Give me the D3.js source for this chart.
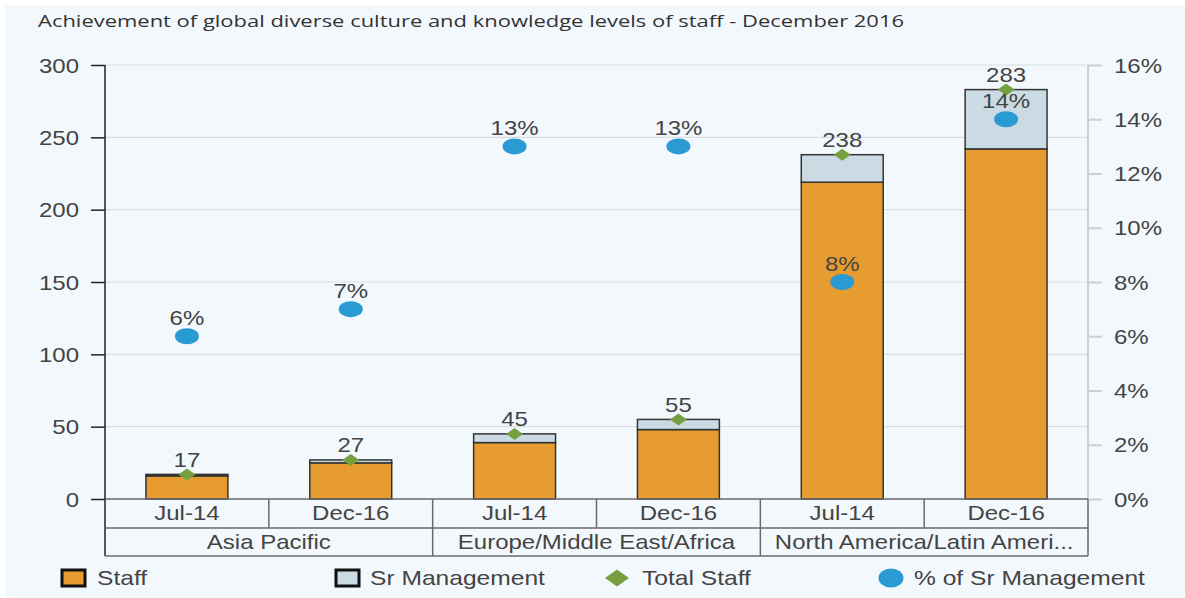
<!DOCTYPE html>
<html>
<head>
<meta charset="utf-8">
<script src="https://cdn.jsdelivr.net/npm/d3@7"></script>
<style>
body { margin: 0; background: #fff; }
text { font-family: "Liberation Sans", Arial, sans-serif; fill: #444; }
.title { font-family: "Open Sans", sans-serif; fill: #333; }
</style>
</head>
<body>
<div id="chart"></div>
<script>
// data
var regions = ["Asia Pacific", "Europe/Middle East/Africa", "North America/Latin Ameri..."];
var periods = ["Jul-14", "Dec-16"];
var staff = [16, 25, 39, 48, 219, 242];
var srMgmt = [1, 2, 6, 7, 19, 41];
var totalStaff = [17, 27, 45, 55, 238, 283];
var pctSr = [6, 7, 13, 13, 8, 14];
var leftTicks = [0, 50, 100, 150, 200, 250, 300];
var rightTicks = [0, 2, 4, 6, 8, 10, 12, 14, 16];

var width = 1185, height = 598;
var plotL = 105, plotR = 1088, plotT = 65, plotB = 499;
var row1 = 528, row2 = 556;
var fs = 20, sx = 1.2;   // the source text looks wide, so stretch it a bit

var keys = [];
regions.forEach(function(r, i) {
  periods.forEach(function(p, j) { keys.push(i * 2 + j); });
});

var svg = d3.select("#chart").append("svg")
  .attr("width", width).attr("height", height);

svg.append("rect").attr("x", 5).attr("y", 5)
  .attr("width", width - 5).attr("height", height - 5)
  .attr("fill", "#f3f8fc");

svg.append("text").attr("class", "title")
  .attr("x", 38).attr("y", 27)
  .attr("font-size", 17)
  .attr("textLength", 866).attr("lengthAdjust", "spacingAndGlyphs")
  .text("Achievement of global diverse culture and knowledge levels of staff - December 2016");

// put a stretched text at (x, y)
function place(sel, fx, fy) {
  sel.attr("x", 0).attr("y", 0)
    .attr("font-size", fs)
    .attr("transform", function(d, i) {
      return "translate(" + fx(d, i) + "," + fy(d, i) + ") scale(" + sx + ",1)";
    });
}

var x = d3.scaleBand().domain(keys).range([plotL, plotR])
  .paddingInner(0.5).paddingOuter(0.25);
var step = x.step();
var y = d3.scaleLinear().domain([0, 300]).range([plotB, plotT]);
var yR = d3.scaleLinear().domain([0, 16]).range([plotB, plotT]);

// grid
svg.append("g").selectAll("line").data(leftTicks.slice(1)).enter()
  .append("line")
  .attr("x1", plotL).attr("x2", plotR)
  .attr("y1", function(d) { return y(d); })
  .attr("y2", function(d) { return y(d); })
  .attr("stroke", "#d9dde0").attr("stroke-width", 1.2);

// left axis
var yAxis = d3.axisLeft(y).tickValues(leftTicks).tickSize(14);
var gL = svg.append("g").attr("transform", "translate(" + plotL + ",0)").call(yAxis);
gL.select(".domain").remove();
gL.selectAll(".tick line").attr("stroke", "#222").attr("stroke-width", 1.5);
gL.selectAll(".tick text").attr("fill", "#444").attr("dy", null)
  .attr("font-family", "Liberation Sans, Arial, sans-serif")
  .call(place, function() { return -26; }, function() { return 7; });
svg.append("line").attr("x1", plotL).attr("x2", plotL)
  .attr("y1", plotT).attr("y2", row2)
  .attr("stroke", "#222").attr("stroke-width", 1.5);

// right axis
var yAxisR = d3.axisRight(yR).tickValues(rightTicks).tickSize(14)
  .tickFormat(function(d) { return d + "%"; });
var gR = svg.append("g").attr("transform", "translate(" + plotR + ",0)").call(yAxisR);
gR.select(".domain").attr("stroke", "#cfcfcf").attr("stroke-width", 2)
  .attr("d", "M0," + plotT + "V" + plotB);
gR.selectAll(".tick line").attr("stroke", "#cfcfcf").attr("stroke-width", 2);
gR.selectAll(".tick text").attr("fill", "#444").attr("dy", null)
  .attr("font-family", "Liberation Sans, Arial, sans-serif")
  .call(place, function() { return 26; }, function() { return 7; });

// bars
var bars = svg.append("g");
bars.selectAll("rect.staff").data(keys).enter().append("rect")
  .attr("class", "staff")
  .attr("x", function(d) { return x(d); })
  .attr("width", x.bandwidth())
  .attr("y", function(d) { return y(staff[d]); })
  .attr("height", function(d) { return y(0) - y(staff[d]); })
  .attr("fill", "#e79c31").attr("stroke", "#333").attr("stroke-width", 1.5);
bars.selectAll("rect.sr").data(keys).enter().append("rect")
  .attr("class", "sr")
  .attr("x", function(d) { return x(d); })
  .attr("width", x.bandwidth())
  .attr("y", function(d) { return y(staff[d] + srMgmt[d]); })
  .attr("height", function(d) { return y(staff[d]) - y(staff[d] + srMgmt[d]); })
  .attr("fill", "#cbdbe3").attr("stroke", "#333").attr("stroke-width", 1.5);

function cx(d) { return x(d) + x.bandwidth() / 2; }

function diamond(w, h) {
  return "M0," + (-h / 2) + "L" + (w / 2) + ",0L0," + (h / 2) + "L" + (-w / 2) + ",0Z";
}

// total staff diamonds + labels
svg.append("g").selectAll("path").data(keys).enter().append("path")
  .attr("d", diamond(17, 12))
  .attr("transform", function(d) { return "translate(" + cx(d) + "," + y(totalStaff[d]) + ")"; })
  .attr("fill", "#76a040");
svg.append("g").selectAll("text").data(keys).enter().append("text")
  .attr("text-anchor", "middle")
  .text(function(d) { return totalStaff[d]; })
  .call(place, cx, function(d) { return y(totalStaff[d]) - 7.5; });

// % of Sr management dots + labels
svg.append("g").selectAll("ellipse").data(keys).enter().append("ellipse")
  .attr("cx", cx)
  .attr("cy", function(d) { return yR(pctSr[d]); })
  .attr("rx", 12).attr("ry", 8)
  .attr("fill", "#2a9ad3");
svg.append("g").selectAll("text").data(keys).enter().append("text")
  .attr("text-anchor", "middle")
  .text(function(d) { return pctSr[d] + "%"; })
  .call(place, cx, function(d) { return yR(pctSr[d]) - 11; });

// category table
var tbl = svg.append("g").attr("stroke", "#6a6a6a").attr("stroke-width", 1.5);
tbl.append("line").attr("x1", plotL).attr("x2", plotR).attr("y1", plotB).attr("y2", plotB);
tbl.append("line").attr("x1", plotL).attr("x2", plotR).attr("y1", row1).attr("y2", row1);
tbl.append("line").attr("x1", plotL).attr("x2", plotR).attr("y1", row2).attr("y2", row2);
tbl.append("line").attr("x1", plotR).attr("x2", plotR).attr("y1", plotB).attr("y2", row2);
tbl.selectAll("line.p").data(keys.slice(1)).enter().append("line")
  .attr("class", "p")
  .attr("x1", function(d) { return x(d) - step * 0.25; })
  .attr("x2", function(d) { return x(d) - step * 0.25; })
  .attr("y1", plotB)
  .attr("y2", function(d) { return d % 2 === 0 ? row2 : row1; });

svg.append("g").selectAll("text").data(keys).enter().append("text")
  .attr("text-anchor", "middle")
  .text(function(d) { return periods[d % 2]; })
  .call(place, cx, function() { return 520; });
svg.append("g").selectAll("text").data(regions).enter().append("text")
  .attr("text-anchor", "middle")
  .text(function(d) { return d; })
  .call(place, function(d, i) { return x(i * 2) - step * 0.25 + step; }, function() { return 549; });

// legend
var lg = svg.append("g");
lg.append("rect").attr("x", 62).attr("y", 570).attr("width", 23).attr("height", 16)
  .attr("fill", "#e79c31").attr("stroke", "#111").attr("stroke-width", 3);
lg.append("rect").attr("x", 336).attr("y", 570).attr("width", 23).attr("height", 16)
  .attr("fill", "#cbdbe3").attr("stroke", "#111").attr("stroke-width", 3);
lg.append("path").attr("d", diamond(24, 17)).attr("transform", "translate(617,578)")
  .attr("fill", "#76a040");
lg.append("ellipse").attr("cx", 891).attr("cy", 578).attr("rx", 12.5).attr("ry", 9.5)
  .attr("fill", "#2a9ad3");
var legendNames = ["Staff", "Sr Management", "Total Staff", "% of Sr Management"];
var legendX = [97, 370, 642, 914];
lg.selectAll("text").data(legendNames).enter().append("text")
  .text(function(d) { return d; })
  .call(place, function(d, i) { return legendX[i]; }, function() { return 585; });
lg.selectAll("text").attr("font-size", 20.5);
</script>
</body>
</html>
